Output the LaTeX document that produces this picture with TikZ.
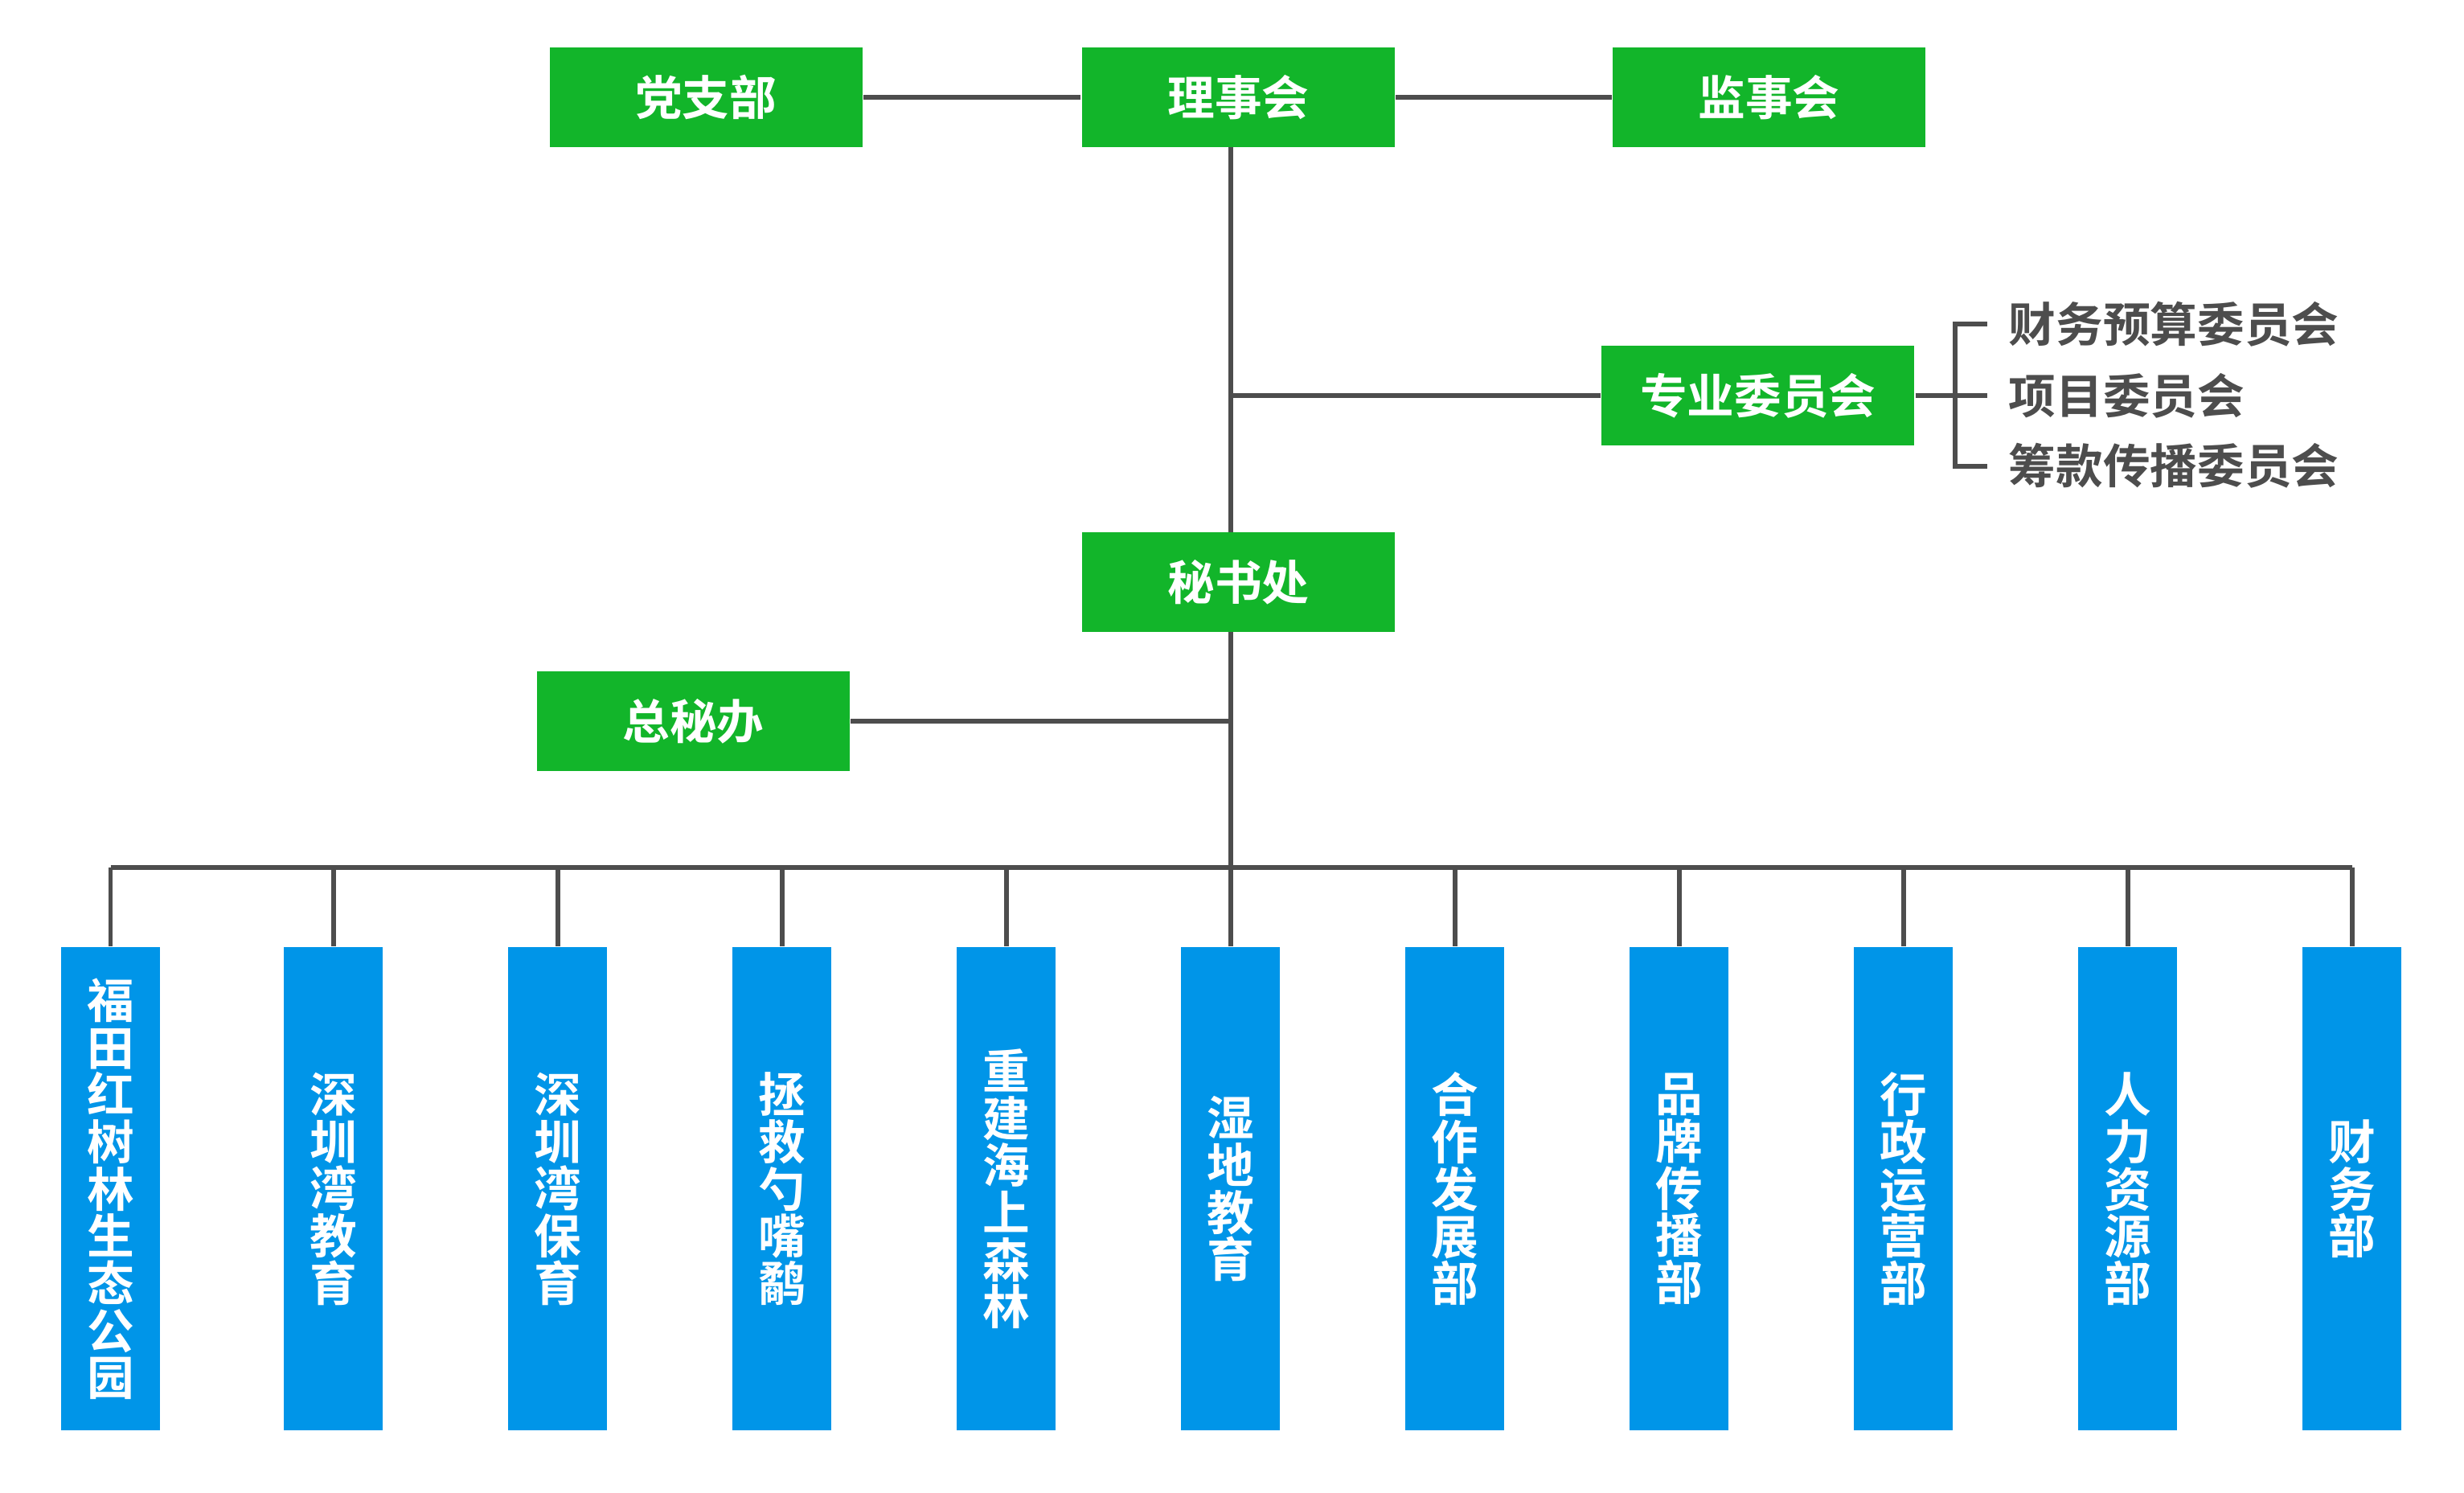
\documentclass[tikz,border=0pt]{standalone}
\usepackage{fontspec}
\newfontfamily\cjk{Noto Sans CJK SC}[BoldFont=* Bold]
\usetikzlibrary{positioning}
\definecolor{orggreen}{RGB}{18, 181, 42}
\definecolor{orgblue}{RGB}{0, 149, 232}
\definecolor{orgline}{RGB}{77, 77, 77}

\begin{document}
\begin{tikzpicture}[
    gbox/.style={rectangle, fill=orggreen, minimum width=1.98cm, minimum height=0.63cm, font=\cjk\bfseries\fontsize{8.5}{8.5}\selectfont, text=white, inner sep=0pt},
    bbox/.style={rectangle, fill=orgblue, minimum width=0.63cm, minimum height=3.06cm, font=\cjk\bfseries\fontsize{8.5}{8.5}\selectfont, text=white, align=center, inner sep=0pt, anchor=north},
    lbl/.style={font=\cjk\bfseries\fontsize{8.5}{8.5}\selectfont, text=orgline, anchor=west, inner sep=0pt},
    ln/.style={draw=orgline, line width=0.85pt},
]
\useasboundingbox (0,0) rectangle (15.6,-9.45);

% top row
\node[gbox] (dzb) at (4.47,-0.615) {党支部};
\node[gbox] (lsh) at (7.84,-0.615) {理事会};
\node[gbox] (jsh) at (11.2,-0.615) {监事会};
\draw[ln] (dzb) -- (lsh);
\draw[ln] (lsh) -- (jsh);

% committees
\node[gbox] (zywyh) at (11.13,-2.505) {专业委员会};
\node[gbox] (msc) at (7.84,-3.685) {秘书处};
\node[gbox] (zmb) at (4.39,-4.565) {总秘办};
\coordinate (c1) at (7.79,-2.505);
\coordinate (c2) at (7.79,-4.565);
\coordinate (c3) at (7.79,-5.49);
\draw[ln] (7.79,-0.93) -- (7.79,-3.37);
\draw[ln] (c1) -- (zywyh);
\draw[ln] (7.79,-4.0) -- (c3);
\draw[ln] (zmb) -- (c2);

% sub committees
\node[lbl] (cw) at (12.71,-2.05) {财务预算委员会};
\node[lbl] (xm) at (12.71,-2.505) {项目委员会};
\node[lbl] (ck) at (12.71,-2.95) {筹款传播委员会};
\coordinate (b0) at (12.38,-2.505);
\draw[ln] (zywyh) -- (b0);
\draw[ln] ([xshift=-0.13cm]cw.west) -| (b0) |- ([xshift=-0.13cm]ck.west);
\draw[ln] (b0) -- ([xshift=-0.13cm]xm.west);

% departments
\draw[ln] (0.70,-5.49) -- (14.89,-5.49);
\foreach \x/\n/\t in {0.70/d1/福\\田\\红\\树\\林\\生\\态\\公\\园,
    2.11/d2/深\\圳\\湾\\教\\育, 3.53/d3/深\\圳\\湾\\保\\育,
    4.95/d4/拯\\救\\勺\\嘴\\鹬, 6.37/d5/重\\建\\海\\上\\森\\林,
    7.79/d6/湿\\地\\教\\育, 9.21/d7/合\\作\\发\\展\\部,
    10.63/d8/品\\牌\\传\\播\\部, 12.05/d9/行\\政\\运\\营\\部,
    13.47/d10/人\\力\\资\\源\\部, 14.89/d11/财\\务\\部} {
  \node[bbox] (\n) at (\x,-5.99) {\t};
  \draw[ln] (\x,-5.49) -- (\n);
}
\end{tikzpicture}
\end{document}
